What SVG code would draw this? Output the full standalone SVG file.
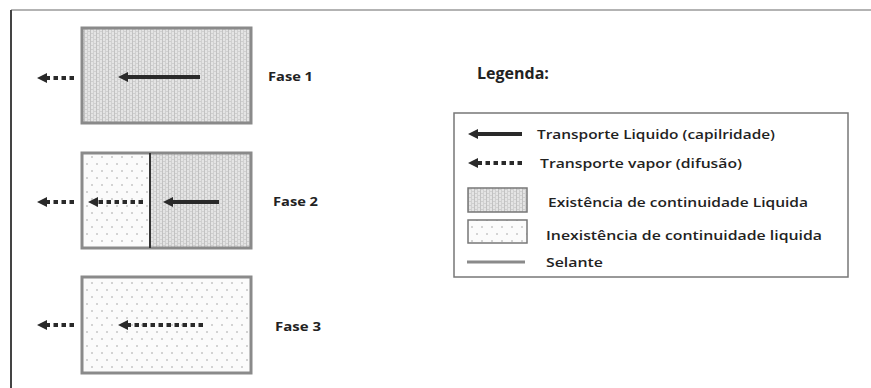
<svg xmlns="http://www.w3.org/2000/svg" width="871" height="388" viewBox="0 0 871 388">
<defs>
<style>
.box{stroke:#8a8a8a;stroke-width:3;}
.stripe{fill:url(#stripes);}
.dots{fill:url(#dotgrid);}
.solid{stroke:#2a2a2a;stroke-width:4;fill:none;}
.dash{stroke:#2a2a2a;stroke-width:4;fill:none;stroke-dasharray:4.5 3.5;}
.lbl{font-family:"Open Sans","Liberation Sans",sans-serif;font-weight:bold;fill:#222;}
.leg{font-family:"Open Sans","Liberation Sans",sans-serif;font-weight:600;fill:#222;font-size:12.5px;}
</style>
<pattern id="stripes" patternUnits="userSpaceOnUse" width="6" height="4">
<rect width="6" height="4" fill="#e4e4e4"/>
<rect x="0" y="0" width="1" height="4" fill="#c2c2c2"/>
<rect x="3" y="0" width="1" height="4" fill="#d0d0d0"/>
<rect x="1.5" y="1" width="1" height="1" fill="#b8b8b8"/>
<rect x="4.5" y="3" width="1" height="1" fill="#bcbcbc"/>
</pattern>
<pattern id="dotgrid" patternUnits="userSpaceOnUse" width="10" height="14">
<rect width="10" height="14" fill="#fbfbfb"/>
<circle cx="2" cy="3" r="0.8" fill="#a0a0a0"/>
<circle cx="7" cy="10" r="0.8" fill="#a0a0a0"/>
</pattern>
<marker id="head" markerUnits="userSpaceOnUse" markerWidth="12" markerHeight="12" viewBox="0 -6 11 12" refX="0" refY="0" orient="auto">
<path d="M0,-5 L10,0 L0,5 z" fill="#2a2a2a"/>
</marker>
</defs>
<rect width="871" height="388" fill="#ffffff"/>
<g id="frame">
<line x1="11" y1="10" x2="871" y2="10" stroke="#9a9a9a" stroke-width="1.5"/>
<line x1="11" y1="10" x2="11" y2="388" stroke="#444" stroke-width="2"/>
</g>
<g id="fase1">
<rect class="box stripe" x="82" y="28" width="169" height="95"/>
<text class="lbl" x="268" y="81" font-size="12" textLength="45" lengthAdjust="spacingAndGlyphs">Fase 1</text>
</g>
<g id="fase2">
<rect class="dots" x="82" y="153" width="68" height="95"/>
<rect class="stripe" x="150" y="153" width="101" height="95"/>
<rect class="box" x="82" y="153" width="169" height="95" fill="none"/>
<line x1="150" y1="153" x2="150" y2="248" stroke="#333" stroke-width="2"/>
<text class="lbl" x="273" y="206" font-size="12" font-weight="600" textLength="45" lengthAdjust="spacingAndGlyphs">Fase 2</text>
</g>
<g id="fase3">
<rect class="box dots" x="82" y="277" width="169" height="96"/>
<text class="lbl" x="275" y="331" font-size="12" textLength="46" lengthAdjust="spacingAndGlyphs">Fase 3</text>
</g>
<g id="connectors">
<line class="solid" x1="200" y1="77" x2="128" y2="77" marker-end="url(#head)"/>
<line class="dash" x1="74" y1="78" x2="47" y2="78" marker-end="url(#head)"/>
<line class="dash" x1="74" y1="202" x2="47" y2="202" marker-end="url(#head)"/>
<line class="dash" x1="143" y1="202" x2="98" y2="202" marker-end="url(#head)"/>
<line class="solid" x1="219" y1="202" x2="173" y2="202" marker-end="url(#head)"/>
<line class="dash" x1="74" y1="325" x2="47" y2="325" marker-end="url(#head)"/>
<line class="dash" x1="203" y1="325" x2="128" y2="325" marker-end="url(#head)"/>
</g>
<g id="legend">
<text class="lbl" x="477" y="79" font-size="16">Legenda:</text>
<rect x="454" y="113" width="394" height="164" fill="none" stroke="#777" stroke-width="1.5"/>
<line class="solid" x1="522" y1="134" x2="478" y2="134" marker-end="url(#head)"/>
<text class="leg" x="537" y="138.5" textLength="238" lengthAdjust="spacingAndGlyphs">Transporte Liquido (capilridade)</text>
<line class="dash" x1="522" y1="163" x2="478" y2="163" marker-end="url(#head)"/>
<text class="leg" x="540" y="167.5" textLength="202" lengthAdjust="spacingAndGlyphs">Transporte vapor (difusão)</text>
<rect class="stripe" x="468" y="188" width="59" height="24" stroke="#777" stroke-width="1.5"/>
<text class="leg" x="548" y="206.5" textLength="260" lengthAdjust="spacingAndGlyphs">Existência de continuidade Liquida</text>
<rect class="dots" x="468" y="220" width="59" height="23" stroke="#777" stroke-width="1.5"/>
<text class="leg" x="546" y="239.5" textLength="276" lengthAdjust="spacingAndGlyphs">Inexistência de continuidade liquida</text>
<line x1="467" y1="262" x2="525" y2="262" stroke="#8a8a8a" stroke-width="3"/>
<text class="leg" x="546" y="266.5" textLength="57" lengthAdjust="spacingAndGlyphs">Selante</text>
</g>
</svg>
